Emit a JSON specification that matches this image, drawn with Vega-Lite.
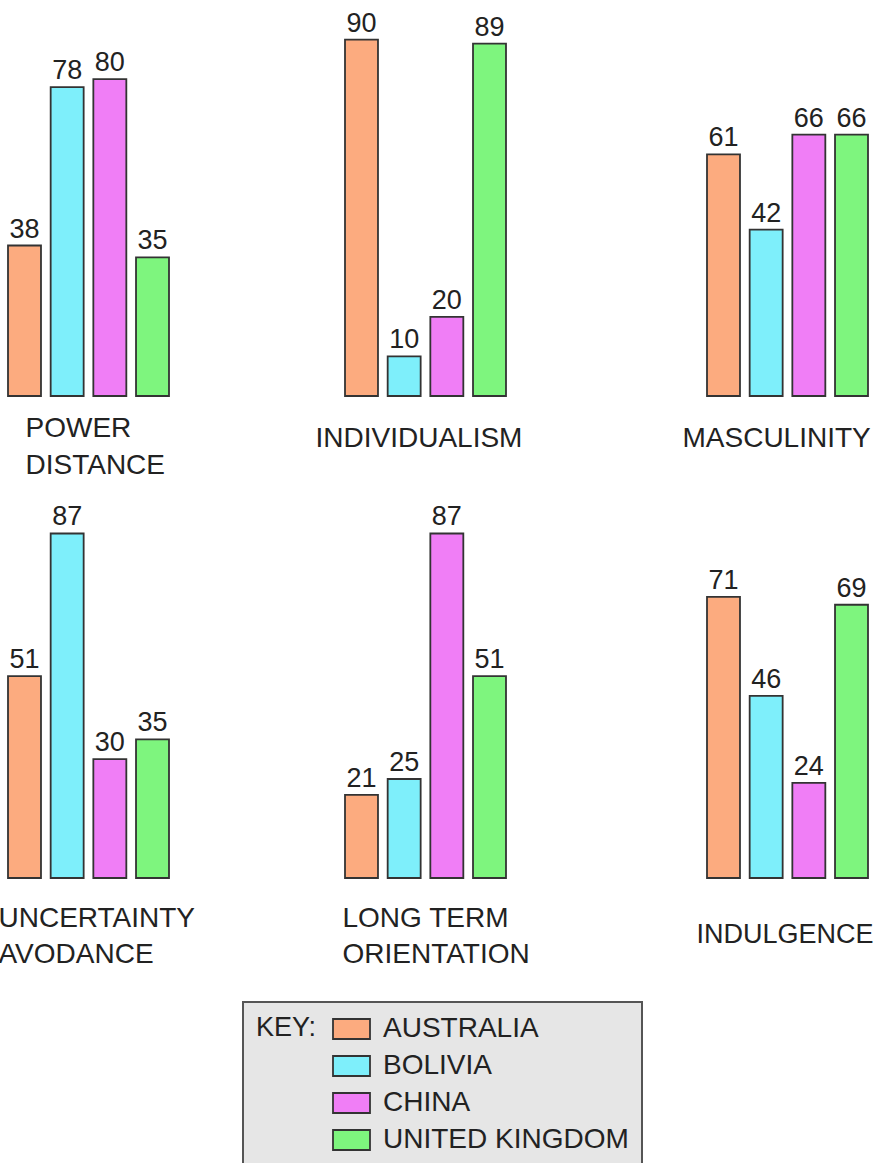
{
  "$schema": "https://vega.github.io/schema/vega-lite/v6.json",
  "background": "white",
  "padding": {"left": -2, "top": 0, "right": 0, "bottom": 0},
  "data": {"values": [
    {"dim": "POWER DISTANCE", "country": "AUSTRALIA", "value": 38},
    {"dim": "POWER DISTANCE", "country": "BOLIVIA", "value": 78},
    {"dim": "POWER DISTANCE", "country": "CHINA", "value": 80},
    {"dim": "POWER DISTANCE", "country": "UNITED KINGDOM", "value": 35},
    {"dim": "INDIVIDUALISM", "country": "AUSTRALIA", "value": 90},
    {"dim": "INDIVIDUALISM", "country": "BOLIVIA", "value": 10},
    {"dim": "INDIVIDUALISM", "country": "CHINA", "value": 20},
    {"dim": "INDIVIDUALISM", "country": "UNITED KINGDOM", "value": 89},
    {"dim": "MASCULINITY", "country": "AUSTRALIA", "value": 61},
    {"dim": "MASCULINITY", "country": "BOLIVIA", "value": 42},
    {"dim": "MASCULINITY", "country": "CHINA", "value": 66},
    {"dim": "MASCULINITY", "country": "UNITED KINGDOM", "value": 66},
    {"dim": "UNCERTAINTY AVODANCE", "country": "AUSTRALIA", "value": 51},
    {"dim": "UNCERTAINTY AVODANCE", "country": "BOLIVIA", "value": 87},
    {"dim": "UNCERTAINTY AVODANCE", "country": "CHINA", "value": 30},
    {"dim": "UNCERTAINTY AVODANCE", "country": "UNITED KINGDOM", "value": 35},
    {"dim": "LONG TERM ORIENTATION", "country": "AUSTRALIA", "value": 21},
    {"dim": "LONG TERM ORIENTATION", "country": "BOLIVIA", "value": 25},
    {"dim": "LONG TERM ORIENTATION", "country": "CHINA", "value": 87},
    {"dim": "LONG TERM ORIENTATION", "country": "UNITED KINGDOM", "value": 51},
    {"dim": "INDULGENCE", "country": "AUSTRALIA", "value": 71},
    {"dim": "INDULGENCE", "country": "BOLIVIA", "value": 46},
    {"dim": "INDULGENCE", "country": "CHINA", "value": 24},
    {"dim": "INDULGENCE", "country": "UNITED KINGDOM", "value": 69}
  ]},
  "bounds": "flush",
  "columns": 3,
  "spacing": {"row": 86, "column": 176},
  "concat": [
    {
      "width": 161, "height": 396,
      "transform": [{"filter": "datum.dim === 'POWER DISTANCE'"}],
      "encoding": {
        "x": {"field": "country", "type": "nominal", "sort": null, "scale": {"paddingInner": 0.227, "paddingOuter": 0},
              "axis": {"title": ["POWER", "DISTANCE"], "titleX": 17, "titleY": 40, "titleLineHeight": 37}},
        "y": {"field": "value", "type": "quantitative", "scale": {"domain": [0, 100]}, "axis": null}
      },
      "layer": [
        {"mark": {"type": "bar", "stroke": "#333333", "strokeWidth": 1.8},
         "encoding": {"color": {"field": "country", "type": "nominal", "title": "KEY:",
           "scale": {"domain": ["AUSTRALIA", "BOLIVIA", "CHINA", "UNITED KINGDOM"], "range": ["#FCAB7F", "#7EEFFB", "#F07EF6", "#7EF57E"]}}}},
        {"mark": {"type": "text", "dy": -8, "baseline": "alphabetic", "fontSize": 27, "color": "#222222"},
         "encoding": {"text": {"field": "value", "type": "quantitative"}}}
      ]
    },
    {
      "width": 186, "height": 396,
      "transform": [{"filter": "datum.dim === 'INDIVIDUALISM'"}],
      "encoding": {
        "x": {"field": "country", "type": "nominal", "sort": null, "scale": {"paddingInner": 0.227, "paddingOuter": 0.293, "align": 0},
              "axis": {"title": "INDIVIDUALISM", "titleX": -30, "titleY": 50}},
        "y": {"field": "value", "type": "quantitative", "scale": {"domain": [0, 100]}, "axis": null}
      },
      "layer": [
        {"mark": {"type": "bar", "stroke": "#333333", "strokeWidth": 1.8},
         "encoding": {"color": {"field": "country", "type": "nominal", "title": "KEY:"}}},
        {"mark": {"type": "text", "dy": -8, "baseline": "alphabetic", "fontSize": 27, "color": "#222222"},
         "encoding": {"text": {"field": "value", "type": "quantitative"}}}
      ]
    },
    {
      "width": 161, "height": 396,
      "transform": [{"filter": "datum.dim === 'MASCULINITY'"}],
      "encoding": {
        "x": {"field": "country", "type": "nominal", "sort": null, "scale": {"paddingInner": 0.227, "paddingOuter": 0},
              "axis": {"title": "MASCULINITY", "titleX": -25, "titleY": 50}},
        "y": {"field": "value", "type": "quantitative", "scale": {"domain": [0, 100]}, "axis": null}
      },
      "layer": [
        {"mark": {"type": "bar", "stroke": "#333333", "strokeWidth": 1.8},
         "encoding": {"color": {"field": "country", "type": "nominal", "title": "KEY:"}}},
        {"mark": {"type": "text", "dy": -8, "baseline": "alphabetic", "fontSize": 27, "color": "#222222"},
         "encoding": {"text": {"field": "value", "type": "quantitative"}}}
      ]
    },
    {
      "width": 161, "height": 396,
      "transform": [{"filter": "datum.dim === 'UNCERTAINTY AVODANCE'"}],
      "encoding": {
        "x": {"field": "country", "type": "nominal", "sort": null, "scale": {"paddingInner": 0.227, "paddingOuter": 0},
              "axis": {"title": ["UNCERTAINTY", "AVODANCE"], "titleX": -10, "titleY": 48, "titleLineHeight": 36}},
        "y": {"field": "value", "type": "quantitative", "scale": {"domain": [0, 100]}, "axis": null}
      },
      "layer": [
        {"mark": {"type": "bar", "stroke": "#333333", "strokeWidth": 1.8},
         "encoding": {"color": {"field": "country", "type": "nominal", "title": "KEY:"}}},
        {"mark": {"type": "text", "dy": -8, "baseline": "alphabetic", "fontSize": 27, "color": "#222222"},
         "encoding": {"text": {"field": "value", "type": "quantitative"}}}
      ]
    },
    {
      "width": 186, "height": 396,
      "transform": [{"filter": "datum.dim === 'LONG TERM ORIENTATION'"}],
      "encoding": {
        "x": {"field": "country", "type": "nominal", "sort": null, "scale": {"paddingInner": 0.227, "paddingOuter": 0.293, "align": 0},
              "axis": {"title": ["LONG TERM", "ORIENTATION"], "titleX": -3, "titleY": 48, "titleLineHeight": 36}},
        "y": {"field": "value", "type": "quantitative", "scale": {"domain": [0, 100]}, "axis": null}
      },
      "layer": [
        {"mark": {"type": "bar", "stroke": "#333333", "strokeWidth": 1.8},
         "encoding": {"color": {"field": "country", "type": "nominal", "title": "KEY:"}}},
        {"mark": {"type": "text", "dy": -8, "baseline": "alphabetic", "fontSize": 27, "color": "#222222"},
         "encoding": {"text": {"field": "value", "type": "quantitative"}}}
      ]
    },
    {
      "width": 161, "height": 396,
      "transform": [{"filter": "datum.dim === 'INDULGENCE'"}],
      "encoding": {
        "x": {"field": "country", "type": "nominal", "sort": null, "scale": {"paddingInner": 0.227, "paddingOuter": 0},
              "axis": {"title": "INDULGENCE", "titleX": -11, "titleY": 64, "titleFontSize": 27}},
        "y": {"field": "value", "type": "quantitative", "scale": {"domain": [0, 100]}, "axis": null}
      },
      "layer": [
        {"mark": {"type": "bar", "stroke": "#333333", "strokeWidth": 1.8},
         "encoding": {"color": {"field": "country", "type": "nominal", "title": "KEY:"}}},
        {"mark": {"type": "text", "dy": -8, "baseline": "alphabetic", "fontSize": 27, "color": "#222222"},
         "encoding": {"text": {"field": "value", "type": "quantitative"}}}
      ]
    }
  ],
  "config": {
    "font": "Liberation Sans",
    "view": {"stroke": null},
    "axisX": {
      "labels": false, "ticks": false, "domain": false, "grid": false,
      "titleFont": "Liberation Sans", "titleFontSize": 28, "titleFontWeight": "normal",
      "titleColor": "#222222", "titleAlign": "left", "titleBaseline": "alphabetic", "titleAngle": 0
    },
    "legend": {
      "orient": "none", "legendX": 235, "legendY": 1002,
      "fillColor": "#e6e6e6", "strokeColor": "#555555", "strokeWidth": 2,
      "padding": 13,
      "titleOrient": "left", "titleAnchor": "start", "titleBaseline": "top",
      "titleFont": "Liberation Sans", "titleFontSize": 27, "titleFontWeight": "normal",
      "titleColor": "#222222", "titlePadding": 20.5,
      "symbolType": "M-3.7,-2H3.7V2H-3.7Z", "symbolSize": 100,
      "symbolStrokeColor": "#333333", "symbolStrokeWidth": 1.8, "symbolOpacity": 1,
      "labelFont": "Liberation Sans", "labelFontSize": 28, "labelColor": "#222222", "labelLimit": 400,
      "labelOffset": 17.5, "rowPadding": 9
    }
  }
}
